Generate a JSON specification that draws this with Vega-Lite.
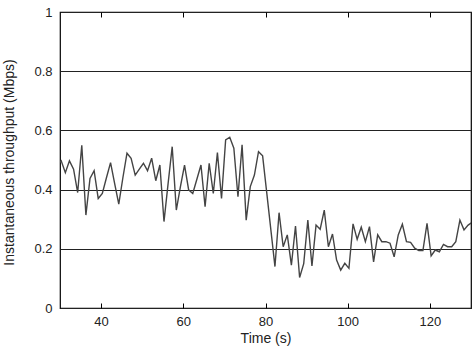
{
  "$schema": "https://vega.github.io/schema/vega-lite/v6.json",
  "autosize": {"type": "none"},
  "padding": {"left": 60, "top": 12, "right": 2, "bottom": 46},
  "width": 411,
  "height": 296,
  "background": "white",
  "config": {
    "view": {"stroke": "#000", "strokeWidth": 1.2},
    "font": "Liberation Sans",
    "axis": {"labelFont": "Liberation Sans", "titleFont": "Liberation Sans", "labelFontSize": 13, "titleFontSize": 14, "labelColor": "#222", "titleColor": "#222", "titleFontWeight": "normal", "domain": false}
  },
  "data": {"values": [
    {"t": 29.3, "v": 0.48},
    {"t": 30.3, "v": 0.497}, {"t": 31.3, "v": 0.457}, {"t": 32.3, "v": 0.497}, {"t": 33.3, "v": 0.469}, {"t": 34.3, "v": 0.39},
    {"t": 35.3, "v": 0.55}, {"t": 36.3, "v": 0.314}, {"t": 37.3, "v": 0.438}, {"t": 38.3, "v": 0.464}, {"t": 39.3, "v": 0.37},
    {"t": 40.3, "v": 0.387}, {"t": 41.3, "v": 0.44}, {"t": 42.3, "v": 0.491}, {"t": 43.3, "v": 0.42}, {"t": 44.3, "v": 0.351},
    {"t": 45.3, "v": 0.44}, {"t": 46.3, "v": 0.523}, {"t": 47.3, "v": 0.506}, {"t": 48.3, "v": 0.449}, {"t": 49.3, "v": 0.469},
    {"t": 50.3, "v": 0.489}, {"t": 51.3, "v": 0.464}, {"t": 52.3, "v": 0.506}, {"t": 53.3, "v": 0.43}, {"t": 54.3, "v": 0.483},
    {"t": 55.3, "v": 0.292}, {"t": 56.3, "v": 0.42}, {"t": 57.3, "v": 0.545}, {"t": 58.3, "v": 0.331}, {"t": 59.3, "v": 0.41},
    {"t": 60.3, "v": 0.483}, {"t": 61.3, "v": 0.399}, {"t": 62.3, "v": 0.387}, {"t": 63.3, "v": 0.435}, {"t": 64.3, "v": 0.483},
    {"t": 65.3, "v": 0.342}, {"t": 66.3, "v": 0.489}, {"t": 67.3, "v": 0.387}, {"t": 68.3, "v": 0.525}, {"t": 69.3, "v": 0.37},
    {"t": 70.3, "v": 0.568}, {"t": 71.3, "v": 0.577}, {"t": 72.3, "v": 0.54}, {"t": 73.3, "v": 0.376}, {"t": 74.3, "v": 0.551},
    {"t": 75.3, "v": 0.297}, {"t": 76.3, "v": 0.41}, {"t": 77.3, "v": 0.449}, {"t": 78.3, "v": 0.528}, {"t": 79.3, "v": 0.514},
    {"t": 80.3, "v": 0.39}, {"t": 81.3, "v": 0.265}, {"t": 82.3, "v": 0.14}, {"t": 83.3, "v": 0.322}, {"t": 84.3, "v": 0.207},
    {"t": 85.3, "v": 0.247}, {"t": 86.3, "v": 0.145}, {"t": 87.3, "v": 0.277}, {"t": 88.3, "v": 0.103}, {"t": 89.3, "v": 0.15},
    {"t": 90.3, "v": 0.297}, {"t": 91.3, "v": 0.142}, {"t": 92.3, "v": 0.28}, {"t": 93.3, "v": 0.266}, {"t": 94.3, "v": 0.331},
    {"t": 95.3, "v": 0.207}, {"t": 96.3, "v": 0.25}, {"t": 97.3, "v": 0.162}, {"t": 98.3, "v": 0.128}, {"t": 99.3, "v": 0.151},
    {"t": 100.3, "v": 0.134}, {"t": 101.3, "v": 0.284}, {"t": 102.3, "v": 0.232}, {"t": 103.3, "v": 0.273}, {"t": 104.3, "v": 0.224},
    {"t": 105.3, "v": 0.275}, {"t": 106.3, "v": 0.156}, {"t": 107.3, "v": 0.247}, {"t": 108.3, "v": 0.224}, {"t": 109.3, "v": 0.224},
    {"t": 110.3, "v": 0.219}, {"t": 111.3, "v": 0.173}, {"t": 112.3, "v": 0.247}, {"t": 113.3, "v": 0.283}, {"t": 114.3, "v": 0.224},
    {"t": 115.3, "v": 0.222}, {"t": 116.3, "v": 0.202}, {"t": 117.3, "v": 0.194}, {"t": 118.3, "v": 0.194}, {"t": 119.3, "v": 0.286},
    {"t": 120.3, "v": 0.176}, {"t": 121.3, "v": 0.196}, {"t": 122.3, "v": 0.19}, {"t": 123.3, "v": 0.215}, {"t": 124.3, "v": 0.207},
    {"t": 125.3, "v": 0.207}, {"t": 126.3, "v": 0.224}, {"t": 127.3, "v": 0.297}, {"t": 128.3, "v": 0.264}, {"t": 129.3, "v": 0.28},
    {"t": 130.3, "v": 0.29}
  ]},
  "layer": [
    {
      "mark": {"type": "line", "color": "#444", "strokeWidth": 1.4, "clip": true},
      "encoding": {
        "x": {"field": "t", "type": "quantitative", "scale": {"domain": [30, 130], "nice": false, "zero": false},
          "axis": {"orient": "bottom", "title": "Time (s)", "values": [40, 60, 80, 100, 120], "grid": false, "tickSize": -5, "tickColor": "#000", "labelPadding": 12, "titleY": 23, "titleBaseline": "top", "format": "d"}},
        "y": {"field": "v", "type": "quantitative", "scale": {"domain": [0, 1], "nice": false},
          "axis": {"title": "Instantaneous throughput (Mbps)", "values": [0, 0.2, 0.4, 0.6, 0.8, 1], "labelExpr": "datum.value == 0 ? '0' : datum.value == 1 ? '1' : format(datum.value, '.1f')", "grid": true, "gridColor": "#222", "gridOpacity": 1, "gridWidth": 1, "ticks": false, "labelPadding": 8, "titleX": -44, "titleY": 150, "titleAngle": -90, "titleBaseline": "bottom", "titleAnchor": "middle"}}
      }
    },
    {
      "mark": {"type": "line", "opacity": 0, "clip": true},
      "encoding": {
        "x": {"field": "t", "type": "quantitative", "axis": {"orient": "top", "title": null, "labels": false, "values": [40, 60, 80, 100, 120], "grid": false, "tickSize": -5, "tickColor": "#000"}},
        "y": {"field": "v", "type": "quantitative"}
      }
    }
  ],
  "resolve": {"axis": {"x": "independent"}}
}
